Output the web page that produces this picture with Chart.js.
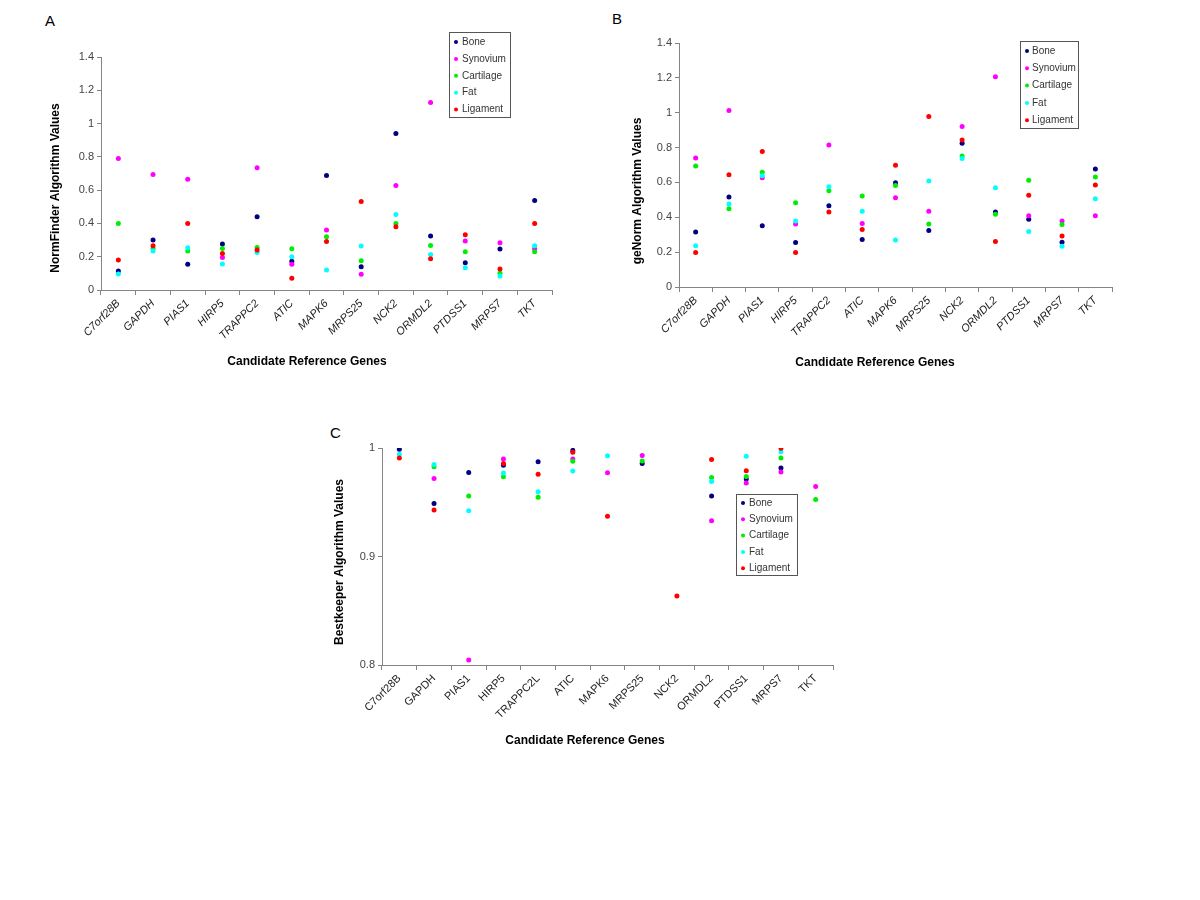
<!DOCTYPE html>
<html>
<head>
<meta charset="utf-8">
<script src="https://cdn.jsdelivr.net/npm/chart.js@4.4.1/dist/chart.umd.min.js"></script>
<style>
  body { margin: 0; background: #fff; width: 1200px; height: 900px; position: relative; overflow: hidden;
         font-family: "Liberation Sans", Arial, sans-serif; }
  canvas { position: absolute; }
  .panel { position: absolute; font-size: 15px; line-height: 15px; color: #000; }
</style>
</head>
<body>
<div class="panel" style="left:45px;top:13px">A</div>
<div class="panel" style="left:612px;top:11px">B</div>
<div class="panel" style="left:330px;top:425px">C</div>
<canvas id="chart-a" width="560" height="380" style="left:40px;top:0px"></canvas>
<canvas id="chart-b" width="600" height="380" style="left:600px;top:0px"></canvas>
<canvas id="chart-c" width="560" height="340" style="left:320px;top:420px"></canvas>
<script>
// --- Data ---
const genes = ['C7orf28B', 'GAPDH', 'PIAS1', 'HIRP5', 'TRAPPC2', 'ATIC', 'MAPK6', 'MRPS25', 'NCK2', 'ORMDL2', 'PTDSS1', 'MRPS7', 'TKT'];
const genesC = ['C7orf28B', 'GAPDH', 'PIAS1', 'HIRP5', 'TRAPPC2L', 'ATIC', 'MAPK6', 'MRPS25', 'NCK2', 'ORMDL2', 'PTDSS1', 'MRPS7', 'TKT'];
const tissues = ['Bone', 'Synovium', 'Cartilage', 'Fat', 'Ligament'];

// A: NormFinder
const nfBone      = [0.114, 0.30, 0.154, 0.276, 0.44, 0.172, 0.688, 0.14, 0.94, 0.324, 0.164, 0.246, 0.538];
const nfSynovium  = [0.79, 0.694, 0.666, 0.196, 0.734, 0.154, 0.36, 0.094, 0.628, 1.126, 0.294, 0.284, 0.248];
const nfCartilage = [0.40, 0.25, 0.234, 0.25, 0.256, 0.248, 0.32, 0.176, 0.40, 0.268, 0.23, 0.10, 0.23];
const nfFat       = [0.096, 0.234, 0.254, 0.156, 0.226, 0.20, 0.12, 0.264, 0.454, 0.214, 0.134, 0.084, 0.266];
const nfLigament  = [0.18, 0.266, 0.40, 0.22, 0.24, 0.07, 0.292, 0.532, 0.38, 0.188, 0.332, 0.126, 0.40];

// B: geNorm
const gnBone      = [0.315, 0.516, 0.351, 0.255, 0.466, 0.272, 0.598, 0.324, 0.825, 0.430, 0.389, 0.257, 0.677];
const gnSynovium  = [0.740, 1.013, 0.627, 0.362, 0.815, 0.364, 0.512, 0.435, 0.921, 1.206, 0.409, 0.378, 0.409];
const gnCartilage = [0.694, 0.449, 0.658, 0.483, 0.552, 0.522, 0.583, 0.361, 0.752, 0.418, 0.612, 0.359, 0.631];
const gnFat       = [0.236, 0.476, 0.639, 0.378, 0.575, 0.435, 0.270, 0.608, 0.738, 0.570, 0.318, 0.234, 0.506];
const gnLigament  = [0.198, 0.644, 0.777, 0.198, 0.430, 0.330, 0.698, 0.978, 0.844, 0.261, 0.527, 0.292, 0.585];

// C: Bestkeeper (null = no point)
const bkBone      = [0.9988, 0.9489, 0.9775, 0.984, 0.9874, 0.9978, null, 0.9858, null, 0.9557, 0.9714, 0.9815, null];
const bkSynovium  = [null, 0.972, 0.8046, 0.9898, null, 0.9898, 0.9772, 0.9932, null, 0.9329, 0.9677, 0.9778, 0.9646];
const bkCartilage = [null, 0.9828, 0.9557, 0.9735, 0.9545, 0.9877, null, 0.988, null, 0.9729, 0.9738, 0.9908, 0.9526];
const bkFat       = [0.9942, 0.9849, 0.9422, 0.9769, 0.9597, 0.9788, 0.9929, null, null, 0.9692, 0.9923, 0.9966, null];
const bkLigament  = [0.9908, 0.9428, null, 0.9858, 0.9757, 0.996, 0.9372, null, 0.8637, 0.9895, 0.9791, 0.9997, null];

const tissueColors = ['#000080', '#ff00ff', '#00ee00', '#00ffff', '#ff0000'];
const FONT = '"Liberation Sans", Arial, sans-serif';
const AXIS_GREY = '#848484';

// --- Plugins ---
// axis titles placed like the original (centred on the whole figure, not the plot)
const axisTitles = {
    id: 'axisTitles',
    afterDraw(chart, args, o) {
        const c = chart.ctx;
        c.save();
        c.font = `bold 12px ${FONT}`;
        c.fillStyle = '#000';
        c.textAlign = 'center';
        c.textBaseline = 'middle';
        c.fillText(o.xText, o.xAt[0], o.xAt[1]);
        c.translate(o.yAt[0], o.yAt[1]);
        c.rotate(-Math.PI / 2);
        c.fillText(o.yText, 0, 0);
        c.restore();
    }
};

// boxed legend sitting inside the plot
const boxLegend = {
    id: 'boxLegend',
    afterDraw(chart, args, o) {
        const c = chart.ctx;
        const [bx, by, bw, bh] = o.box;
        c.save();
        c.fillStyle = '#fff';
        c.fillRect(bx, by, bw, bh);
        c.strokeStyle = '#555';
        c.lineWidth = 1;
        c.strokeRect(bx + 0.5, by + 0.5, bw, bh);
        c.font = `10px ${FONT}`;
        c.textBaseline = 'middle';
        chart.data.datasets.forEach((ds, i) => {
            const y = o.firstY + i * o.step;
            c.fillStyle = ds.pointBackgroundColor;
            c.beginPath();
            c.arc(o.dotX, y, 2, 0, Math.PI * 2);
            c.fill();
            c.fillStyle = '#333';
            c.fillText(ds.label, o.textX, y);
        });
        c.restore();
    }
};

function makeChart(id, labels, series, yMin, yMax, yStep, area, titles, legend, italic) {
    const canvas = document.getElementById(id);
    const W = canvas.width, H = canvas.height;
    return new Chart(canvas, {
        type: 'line',
        data: {
            labels: labels,
            datasets: series.map((vals, i) => ({
                label: tissues[i],
                data: vals,
                showLine: false,
                pointRadius: 2.5,
                pointBorderWidth: 0,
                pointBackgroundColor: tissueColors[i],
                borderColor: tissueColors[i],
                order: -i
            }))
        },
        options: {
            responsive: false,
            animation: false,
            devicePixelRatio: 1,
            layout: { padding: { left: 0, top: area.top, right: W - area.right, bottom: 0 } },
            plugins: {
                legend: { display: false },
                tooltip: { enabled: false },
                axisTitles: titles,
                boxLegend: legend
            },
            scales: {
                x: {
                    type: 'category',
                    offset: true,
                    grid: { offset: true, drawOnChartArea: false, drawTicks: true, tickLength: 5, color: AXIS_GREY },
                    border: { color: AXIS_GREY },
                    ticks: {
                        autoSkip: false, maxRotation: 45, minRotation: 45, padding: 2, color: '#222',
                        font: { family: FONT, size: 11, style: italic ? 'italic' : 'normal' }
                    },
                    afterFit: s => { s.height = H - area.bottom; }
                },
                y: {
                    min: yMin, max: yMax,
                    grid: { drawOnChartArea: false, drawTicks: true, tickLength: 4, color: AXIS_GREY },
                    border: { color: AXIS_GREY },
                    ticks: {
                        stepSize: yStep, padding: 3, color: '#444', font: { family: FONT, size: 11 },
                        callback: v => String(Number(v.toFixed(2)))
                    },
                    afterFit: s => { s.width = area.left; }
                }
            }
        },
        plugins: [axisTitles, boxLegend]
    });
}

makeChart('chart-a', genes, [nfBone, nfSynovium, nfCartilage, nfFat, nfLigament], 0, 1.4, 0.2,
    { left: 61, right: 512, top: 57, bottom: 290 },
    { xText: 'Candidate Reference Genes', xAt: [267, 362], yText: 'NormFinder Algorithm Values', yAt: [16, 188] },
    { box: [409, 32, 61, 85], firstY: 42, step: 16.9, dotX: 416, textX: 422 }, true);

makeChart('chart-b', genes, [gnBone, gnSynovium, gnCartilage, gnFat, gnLigament], 0, 1.4, 0.2,
    { left: 79, right: 512, top: 43, bottom: 287 },
    { xText: 'Candidate Reference Genes', xAt: [275, 363], yText: 'geNorm Algorithm Values', yAt: [38, 191] },
    { box: [420, 41, 58, 87], firstY: 51, step: 17.3, dotX: 427, textX: 432 }, true);

makeChart('chart-c', genesC, [bkBone, bkSynovium, bkCartilage, bkFat, bkLigament], 0.8, 1.0, 0.1,
    { left: 62, right: 513, top: 28, bottom: 245 },
    { xText: 'Candidate Reference Genes', xAt: [265, 321], yText: 'Bestkeeper Algorithm Values', yAt: [20, 142] },
    { box: [416, 74, 61, 81], firstY: 83, step: 16.3, dotX: 423, textX: 429 }, false);
</script>
</body>
</html>
